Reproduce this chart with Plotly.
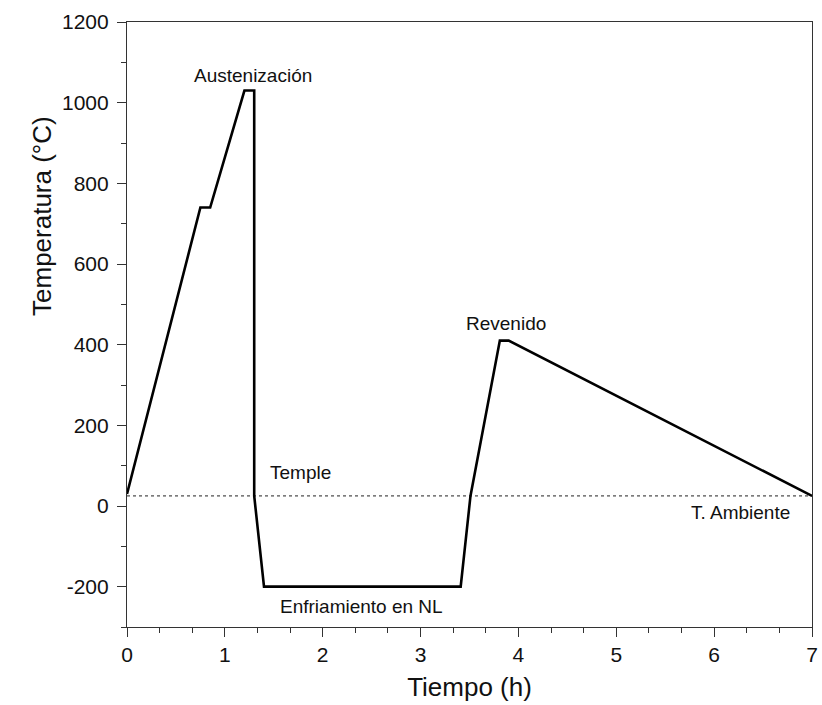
import plotly.graph_objects as go

# Data
time_h = [0, 0.75, 0.85, 1.20, 1.30, 1.30, 1.40, 3.41, 3.51, 3.81, 3.90, 7.0]
temp_c = [30, 740, 740, 1030, 1030, 25, -200, -200, 25, 410, 410, 25]
ambient_x = [0, 7]
ambient_y = [25, 25]

label_text = ["Austenización", "Temple", "Enfriamiento en NL", "Revenido", "T. Ambiente"]
label_x = [1.29, 1.77, 2.40, 3.87, 6.27]
label_y = [1068, 84, -248, 452, -15]

x_ticks = [0, 1, 2, 3, 4, 5, 6, 7]
x_tick_text = ["0", "1", "2", "3", "4", "5", "6", "7"]
y_ticks = [-200, 0, 200, 400, 600, 800, 1000, 1200]
y_tick_text = ["-200", "0", "200", "400", "600", "800", "1000", "1200"]

FONT = "Liberation Sans, Arial, sans-serif"

fig = go.Figure()
fig.add_trace(go.Scatter(x=ambient_x, y=ambient_y, mode="lines",
                         line=dict(color="#222222", width=1, dash="3px,3px"),
                         showlegend=False, hoverinfo="skip"))
fig.add_trace(go.Scatter(x=time_h, y=temp_c, mode="lines",
                         line=dict(color="black", width=2.6),
                         showlegend=False))

for t, x, y in zip(label_text, label_x, label_y):
    fig.add_annotation(x=x, y=y, text=t, showarrow=False,
                       font=dict(family=FONT, size=19, color="#111111"),
                       xanchor="center", yanchor="middle")

# y-axis title as annotation (positioned like the reference)
fig.add_annotation(xref="paper", yref="paper", x=-0.125, y=0.68,
                   text="Temperatura (°C)", textangle=-90, showarrow=False,
                   font=dict(family=FONT, size=26, color="#111111"),
                   xanchor="center", yanchor="middle")

axis_common = dict(showgrid=False, zeroline=False, showline=True,
                   linecolor="#333333", linewidth=1.2, mirror=True,
                   ticks="outside", ticklen=9, tickwidth=1.2, tickcolor="#333333",
                   automargin=False, ticklabeloverflow="allow",
                   tickfont=dict(family=FONT, size=21, color="#111111"))

fig.update_xaxes(range=[0, 7], tickvals=x_ticks, ticktext=x_tick_text,
                 minor=dict(ticks="outside", ticklen=5, tickwidth=1.2,
                            tickcolor="#333333", dtick=1/3, tick0=0),
                 title=dict(text="Tiempo (h)", font=dict(family=FONT, size=26, color="#111111"),
                            standoff=12),
                 **axis_common)
fig.update_yaxes(range=[-300, 1200], tickvals=y_ticks, ticktext=y_tick_text,
                 ticklabelstandoff=4,
                 minor=dict(ticks="outside", ticklen=5, tickwidth=1.2,
                            tickcolor="#333333", dtick=100, tick0=0),
                 **axis_common)

fig.update_layout(width=822, height=705,
                  margin=dict(l=127, r=10, t=22, b=78),
                  paper_bgcolor="white", plot_bgcolor="white",
                  font=dict(family=FONT))

fig.write_html("out.html")
